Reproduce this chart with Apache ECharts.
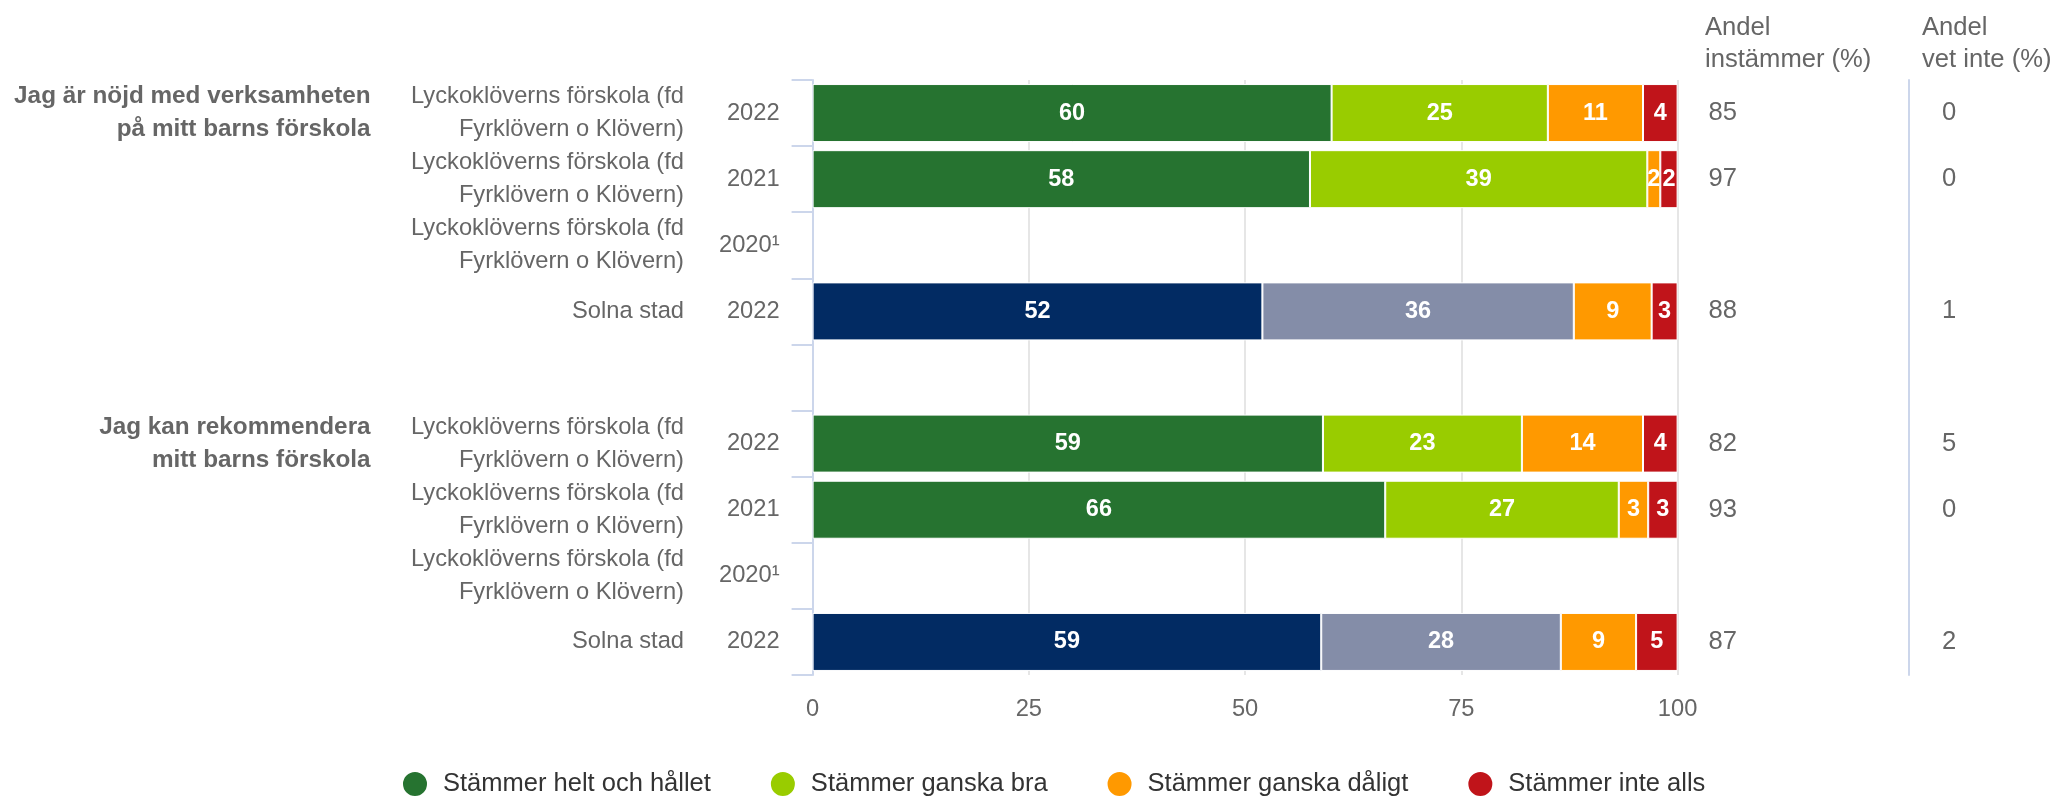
<!DOCTYPE html>
<html lang="sv">
<head>
    <meta charset="UTF-8">
    <title>Nöjdhet förskola</title>
    <script src="https://cdn.jsdelivr.net/npm/echarts@6/dist/echarts.min.js"></script>
    <style>
        body { margin: 0; background: #fff; }
    </style>
</head>
<body>
    <div id="main" style="width: 2055px;height: 797px"></div>
    <script type="text/javascript">
        // frågor, enheter och år
        var questions = ['Jag är nöjd med verksamheten\npå mitt barns förskola', 'Jag kan rekommendera\nmitt barns förskola'];
        var units = ['Lyckoklöverns förskola (fd\nFyrklövern o Klövern)', 'Lyckoklöverns förskola (fd\nFyrklövern o Klövern)', 'Lyckoklöverns förskola (fd\nFyrklövern o Klövern)', 'Solna stad'];
        var years = ['2022', '2021', '2020¹', '2022'];

        // andelar per rad (null = tom rad / mellanrum)
        var heltOchHallet = [60, 57.5, null, 52, null, 59, 66.2, null, 58.8];
        var ganskaBra     = [25, 39, null, 36, null, 23, 27, null, 27.7];
        var ganskaDaligt  = [11, 1.5, null, 9, null, 14, 3.4, null, 8.7];
        var inteAlls      = [4, 2, null, 3, null, 4, 3.4, null, 4.8];
        var andelInstammer = [85, 97, null, 88, null, 82, 93, null, 87];
        var andelVetInte   = [0, 0, null, 1, null, 5, 0, null, 2];

        var xTicks = [0, 25, 50, 75, 100];

        var seriesNames = ['Stämmer helt och hållet', 'Stämmer ganska bra', 'Stämmer ganska dåligt', 'Stämmer inte alls'];
        var seriesColors = ['#267330', '#99cc00', '#ff9900', '#c0141a'];
        var solnaColors = ['#022b63', '#848da8'];

        // bygg raderna, med en tom rad mellan frågorna
        var qLabels = [], unitLabels = [], yearLabels = [], isSolna = [];
        questions.forEach(function (q, g) {
            if (g > 0) {
                qLabels.push(''); unitLabels.push(''); yearLabels.push(''); isSolna.push(false);
            }
            units.forEach(function (u, i) {
                qLabels.push(i === 0 ? q : '');
                unitLabels.push(u);
                yearLabels.push(years[i]);
                isSolna.push(u === 'Solna stad');
            });
        });

        var allValues = [heltOchHallet, ganskaBra, ganskaDaligt, inteAlls];
        var font = "'Liberation Sans', Arial, sans-serif";

        var series = allValues.map(function (vals, s) {
            return {
                name: seriesNames[s],
                type: 'bar',
                stack: 'total',
                barWidth: 58,
                yAxisIndex: 0,
                itemStyle: { color: seriesColors[s], borderColor: '#fff', borderWidth: 1 },
                label: {
                    show: true,
                    position: 'inside',
                    color: '#fff',
                    fontSize: 23.5,
                    fontWeight: 'bold',
                    fontFamily: font,
                    textBorderWidth: 0,
                    formatter: function (p) { return p.value == null ? '' : Math.round(p.value); }
                },
                data: vals.map(function (v, i) {
                    if (isSolna[i] && s < 2) {
                        return { value: v, itemStyle: { color: solnaColors[s] } };
                    }
                    return v;
                })
            };
        });

        var myChart = echarts.init(document.getElementById('main'));
        var labelBase = { color: '#666', fontFamily: font, fontSize: 23.7, lineHeight: 33, interval: 0 };

        var option = {
            backgroundColor: '#fff',
            animation: false,
            textStyle: { fontFamily: font },
            title: [
                { text: 'Andel\ninstämmer (%)', left: 1705, top: 12, padding: 0,
                  textStyle: { fontSize: 25.6, fontWeight: 'normal', color: '#666', lineHeight: 32, fontFamily: font } },
                { text: 'Andel\nvet inte (%)', left: 1922, top: 12, padding: 0,
                  textStyle: { fontSize: 25.6, fontWeight: 'normal', color: '#666', lineHeight: 32, fontFamily: font } }
            ],
            legend: {
                data: seriesNames,
                left: 396,
                top: 765,
                icon: 'circle',
                itemWidth: 26,
                itemHeight: 26,
                itemGap: 58,
                textStyle: { color: '#333', fontSize: 25.5, fontFamily: font, padding: [0, 0, 0, 10] }
            },
            grid: { left: 812.6, right: 377.4, top: 80, bottom: 122, containLabel: false },
            xAxis: {
                type: 'value',
                min: xTicks[0],
                max: xTicks[xTicks.length - 1],
                interval: 25,
                axisLine: { show: false },
                axisTick: { show: false },
                axisLabel: { color: '#666', fontSize: 23.7, margin: 22, fontFamily: font },
                splitLine: { show: true, lineStyle: { color: '#e6e6e6', width: 2 } }
            },
            yAxis: [
                {
                    type: 'category', inverse: true, position: 'left', data: yearLabels,
                    axisLine: { show: true, lineStyle: { color: '#ccd6eb', width: 2 } },
                    axisTick: { show: true, length: 21, lineStyle: { color: '#ccd6eb', width: 2 } },
                    axisLabel: Object.assign({}, labelBase, { margin: 33 })
                },
                {
                    type: 'category', inverse: true, position: 'left', offset: 128.6, data: unitLabels,
                    axisLine: { show: false }, axisTick: { show: false },
                    axisLabel: Object.assign({}, labelBase, { margin: 0 })
                },
                {
                    type: 'category', inverse: true, position: 'left', offset: 442, data: qLabels,
                    axisLine: { show: false }, axisTick: { show: false },
                    axisLabel: Object.assign({}, labelBase, { margin: 0, fontWeight: 'bold', fontSize: 24.3 })
                },
                {
                    type: 'category', inverse: true, position: 'right', offset: 0,
                    data: andelInstammer.map(function (v) { return v == null ? '' : String(v); }),
                    axisLine: { show: false }, axisTick: { show: false },
                    axisLabel: Object.assign({}, labelBase, { margin: 31, fontSize: 25.6 })
                },
                {
                    type: 'category', inverse: true, position: 'right', offset: 231.4,
                    data: andelVetInte.map(function (v) { return v == null ? '' : String(v); }),
                    axisLine: { show: true, lineStyle: { color: '#ccd6eb', width: 2 } },
                    axisTick: { show: false },
                    axisLabel: Object.assign({}, labelBase, { margin: 33, fontSize: 25.6 })
                }
            ],
            series: series
        };

        myChart.setOption(option);
        window.addEventListener("resize", function () {
            myChart.resize();
        });
    </script>
</body>
</html>
